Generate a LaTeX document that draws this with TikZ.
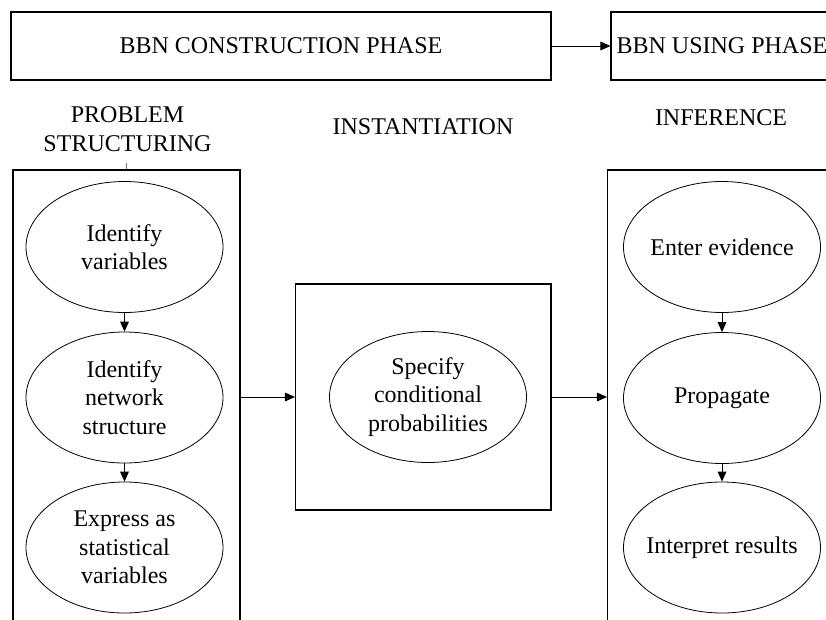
\documentclass[tikz,border=0pt]{standalone}
\usepackage{fontspec}
\setmainfont{Liberation Serif}
\usetikzlibrary{shapes.geometric,arrows.meta}

\begin{document}
\begin{tikzpicture}[
    x=0.75pt, y=-0.75pt,
    every node/.style={font=\fontsize{18}{21.5}\selectfont, align=center, inner sep=0pt},
    phasebox/.style={draw, line width=0.8pt, minimum height=51pt},
    panel/.style={draw, line width=0.8pt, minimum height=352.5pt},
    task/.style={draw, ellipse, line width=0.6pt, inner xsep=-40pt, inner ysep=-20pt,
                 minimum width=147.75pt, minimum height=98.25pt},
    flow/.style={line width=0.7pt, -{Triangle[length=7.5pt,width=6.5pt]}},
  ]
  \useasboundingbox (0,0) rectangle (826,619);
  \clip (0,0) rectangle (826,619);

  % phase boxes along the top
  \node[phasebox, minimum width=405pt]   (build) at (281,46) {BBN CONSTRUCTION PHASE};
  \node[phasebox, minimum width=166.5pt] (use)   at (722,46) {BBN USING PHASE};
  \draw[flow] (build.east) -- (use.west);

  % stage headings
  \node (hstruct) at (127.5,129) {PROBLEM\\STRUCTURING};
  \node (hinst)   at (423,127)   {INSTANTIATION};
  \node (hinf)    at (721,118)   {INFERENCE};

  % stage panels
  \node[panel, minimum width=170.25pt]  (lpanel) at (126.5,405)  {};
  \node[panel, minimum width=174.375pt] (rpanel) at (723.75,405) {};
  \node[draw, line width=0.8pt, minimum width=191.625pt, minimum height=169.5pt] (mpanel) at (423.25,397) {};

  \coordinate (tick) at (126.5,163);
  \draw[black!55, line width=0.8pt] (lpanel.north) -- (tick);

  % problem structuring
  \node[task] (vars)   at (124.5,247)   {Identify\\variables};
  \node[task] (net)    at (124.5,397.5) {Identify\\network\\structure};
  \node[task] (stat)   at (124.5,547.5) {Express as\\statistical\\variables};
  \draw[flow] (vars.south) -- (net.north);
  \draw[flow] (net.south) -- (stat.north);

  % instantiation
  \node[task] (cond) at (428,397) {Specify\\conditional\\probabilities};

  % inference
  \node[task] (evid) at (722,247)   {Enter evidence};
  \node[task] (prop) at (722,398)   {Propagate};
  \node[task] (intp) at (722,547.5) {Interpret results};
  \draw[flow] (evid.south) -- (prop.north);
  \draw[flow] (prop.south) -- (intp.north);

  % links between stages
  \draw[flow] (mpanel.west -| lpanel.east) -- (mpanel.west);
  \draw[flow] (mpanel.east) -- (mpanel.east -| rpanel.west);
\end{tikzpicture}
\end{document}
